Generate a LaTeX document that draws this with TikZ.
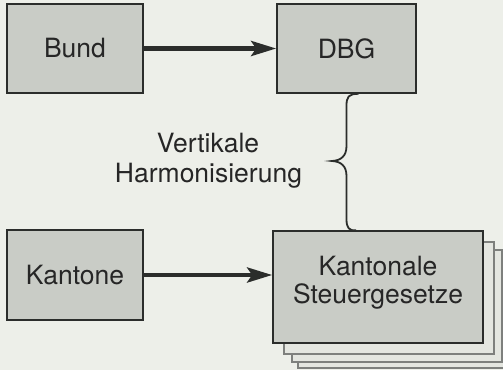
\documentclass[tikz,border=0pt]{standalone}
\usepackage{fontspec}
\setmainfont{TeX Gyre Heros}
\usetikzlibrary{arrows.meta,calc}
\definecolor{bg}{HTML}{EDEFE9}
\definecolor{boxfill}{HTML}{C9CCC6}
\definecolor{boxline}{HTML}{2B2D2B}
\definecolor{sheetfill}{HTML}{E4E6E0}
\definecolor{sheetline}{HTML}{7E807D}
\begin{document}
\begin{tikzpicture}[x=1pt,y=-1pt,
  every node/.style={font=\fontsize{26.5}{28}\selectfont, text=black!85},
  box/.style={draw=boxline, fill=boxfill, line width=1.6pt, inner sep=0pt, align=center},
  sheet/.style={draw=sheetline, fill=sheetfill, line width=1.3pt},
  flow/.style={draw=boxline, line width=4.5pt, -{Stealth[length=25pt,width=15pt,inset=5pt]}},
  bracestyle/.style={draw=boxline, line width=1.8pt}]
\fill[bg] (0,0) rectangle (503,370);
\useasboundingbox (0,0) rectangle (503,370);
% boxes
\node[box, minimum width=136pt, minimum height=89pt] (bund) at (75,48.5) {Bund};
\node[box, minimum width=139pt, minimum height=89pt] (dbg) at (346.5,48.5) {DBG};
\node[box, minimum width=136pt, minimum height=90pt] (kantone) at (75,275) {Kantone};
% stacked sheets behind Kantonale
\coordinate (klnw) at (273,231);
\coordinate (klse) at (483,343);
\draw[sheet] ($(klnw)+(25,25)$) rectangle ($(klse)+(25,25)$);
\draw[sheet] ($(klnw)+(19,19)$) rectangle ($(klse)+(19,19)$);
\draw[sheet] ($(klnw)+(11,11)$) rectangle ($(klse)+(11,11)$);
\node[box, minimum width=210pt, minimum height=112pt] (kl) at (378,287) {};
\node (kltext) at (378,283) [align=center] {Kantonale\\Steuergesetze};
% arrows
\draw[flow] (bund.east) -- (dbg.west);
\draw[flow] (kantone.east) -- (kantone.east -| kl.west);
% brace
\coordinate (b1) at ($(dbg.south)+(12,0)$);
\coordinate (b2) at ($(dbg.south)+(0,12)$);
\coordinate (bm) at (332,161);
\draw[bracestyle] (b1) .. controls ($(dbg.south)+(2,0)$) and ($(dbg.south)+(0,3)$) .. (b2)
  -- (346.5,146) .. controls (346.5,156) and (341,160.5) .. (bm)
  .. controls (341,161.5) and (346.5,166) .. (346.5,176)
  -- (346.5,219) .. controls (346.5,228) and (349,231) .. ($(kl.north west)+(84,0)$);
% label
\node[anchor=base] (v1) at (208,152) {Vertikale};
\node[anchor=base] (v2) at (208.5,182) {Harmonisierung};
\end{tikzpicture}
\end{document}
